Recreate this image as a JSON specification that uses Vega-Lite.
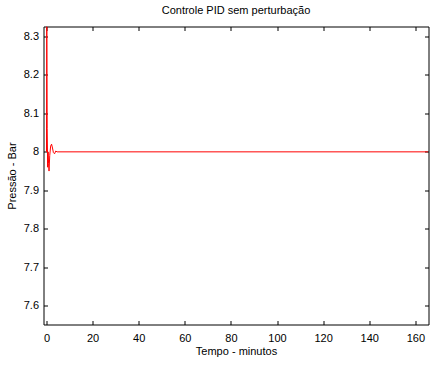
{
  "$schema": "https://vega.github.io/schema/vega-lite/v6.json",
  "autosize": "none",
  "padding": {"left": 43.5, "top": 26.5, "right": 1.5, "bottom": 40.5},
  "width": 385,
  "height": 298,
  "background": "white",
  "title": {"text": "Controle PID sem perturbação", "font": "Liberation Sans", "fontSize": 11, "fontWeight": "normal", "color": "black", "offset": 10},
  "config": {
    "view": {"stroke": "black", "strokeWidth": 1}
  },
  "data": {"values": [
    {"t": 0, "p": 8.0},
    {"t": 0.12, "p": 8.326},
    {"t": 0.3, "p": 8.06},
    {"t": 0.5, "p": 7.96},
    {"t": 0.7, "p": 8.0},
    {"t": 0.9, "p": 7.97},
    {"t": 1.1, "p": 7.95},
    {"t": 1.4, "p": 7.99},
    {"t": 1.8, "p": 8.015},
    {"t": 2.2, "p": 8.02},
    {"t": 2.6, "p": 8.01},
    {"t": 3.0, "p": 7.998},
    {"t": 3.5, "p": 7.995},
    {"t": 4.0, "p": 8.002},
    {"t": 4.6, "p": 8.0},
    {"t": 165.5, "p": 8.0}
  ]},
  "layer": [
    {
      "mark": {"type": "line", "color": "#ff0000", "strokeWidth": 1, "clip": true},
      "encoding": {
        "x": {"field": "t", "type": "quantitative", "scale": {"domain": [-1.3, 165.7], "nice": false, "zero": false},
          "axis": {"title": "Tempo - minutos", "values": [0, 20, 40, 60, 80, 100, 120, 140, 160], "grid": false, "domain": false, "ticks": true, "tickSize": 4, "tickWidth": 1, "tickColor": "black", "offset": -4, "labelPadding": 8, "titlePadding": 2, "labelFont": "Liberation Sans", "labelFontSize": 11, "labelColor": "black", "titleFont": "Liberation Sans", "titleFontSize": 11, "titleFontWeight": "normal", "titleColor": "black"}},
        "y": {"field": "p", "type": "quantitative", "scale": {"domain": [7.551, 8.326], "nice": false, "zero": false},
          "axis": {"title": "Pressão - Bar", "values": [7.6, 7.7, 7.8, 7.9, 8.0, 8.1, 8.2, 8.3], "format": "~g", "grid": false, "domain": false, "ticks": true, "tickSize": 4, "tickWidth": 1, "tickColor": "black", "offset": -4, "labelPadding": 5, "titlePadding": 6, "labelFont": "Liberation Sans", "labelFontSize": 11, "labelColor": "black", "titleFont": "Liberation Sans", "titleFontSize": 11, "titleFontWeight": "normal", "titleColor": "black"}}
      }
    },
    {
      "mark": {"type": "line", "opacity": 0},
      "encoding": {
        "x": {"field": "t", "type": "quantitative", "axis": {"orient": "top", "labels": false, "title": null, "values": [0, 20, 40, 60, 80, 100, 120, 140, 160], "grid": false, "domain": false, "ticks": true, "tickSize": 4, "tickWidth": 1, "tickColor": "black", "offset": -4}},
        "y": {"field": "p", "type": "quantitative", "axis": {"orient": "right", "labels": false, "title": null, "values": [7.6, 7.7, 7.8, 7.9, 8.0, 8.1, 8.2, 8.3], "grid": false, "domain": false, "ticks": true, "tickSize": 4, "tickWidth": 1, "tickColor": "black", "offset": -4}}
      }
    }
  ],
  "resolve": {"axis": {"x": "independent", "y": "independent"}}
}
